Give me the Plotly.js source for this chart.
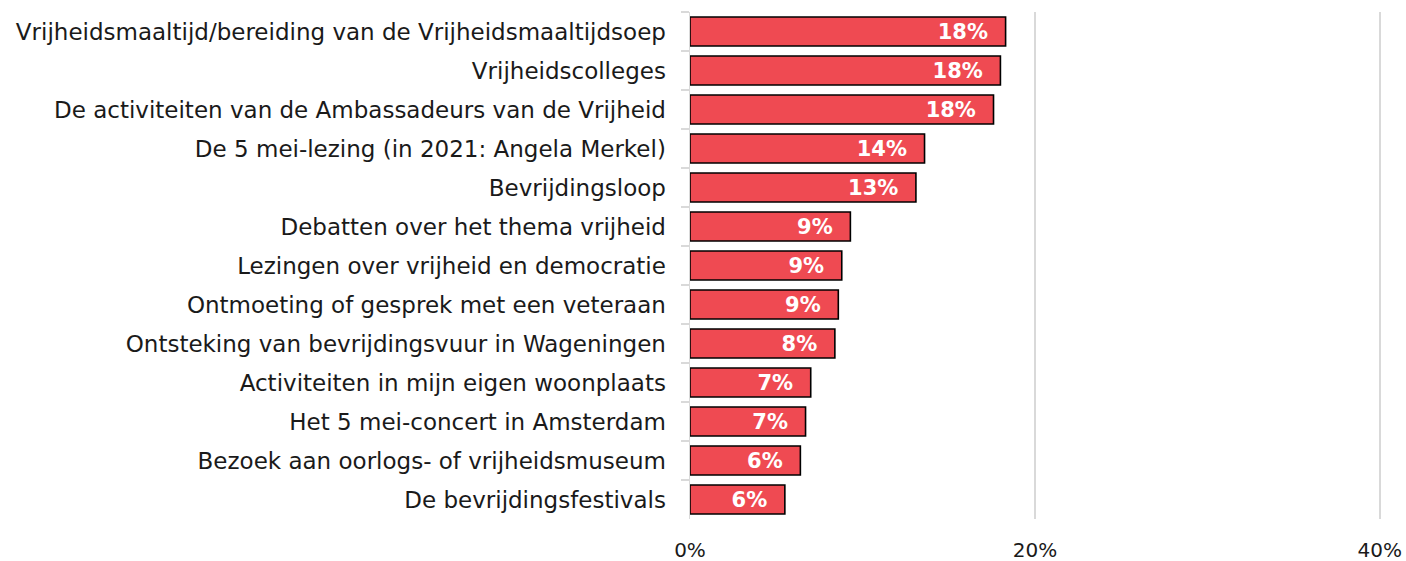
<!DOCTYPE html>
<html>
<head>
<meta charset="utf-8">
<script src="https://cdn.plot.ly/plotly-3.0.1.min.js"></script>
<style>html,body{margin:0;padding:0;background:#fff;}#chart{width:1406px;height:561px;}</style>
</head>
<body>
<div id="chart"></div>
<script>
const categories = [
  "Vrijheidsmaaltijd/bereiding van de Vrijheidsmaaltijdsoep",
  "Vrijheidscolleges",
  "De activiteiten van de Ambassadeurs van de Vrijheid",
  "De 5 mei-lezing (in 2021: Angela Merkel)",
  "Bevrijdingsloop",
  "Debatten over het thema vrijheid",
  "Lezingen over vrijheid en democratie",
  "Ontmoeting of gesprek met een veteraan",
  "Ontsteking van bevrijdingsvuur in Wageningen",
  "Activiteiten in mijn eigen woonplaats",
  "Het 5 mei-concert in Amsterdam",
  "Bezoek aan oorlogs- of vrijheidsmuseum",
  "De bevrijdingsfestivals"
];
const values = [18.3, 18.0, 17.6, 13.6, 13.1, 9.3, 8.8, 8.6, 8.4, 7.0, 6.7, 6.4, 5.5];
const valueLabels = ["18%","18%","18%","14%","13%","9%","9%","9%","8%","7%","7%","6%","6%"];
const xTickVals = [0, 20, 40];
const xTickText = ["0%", "20%", "40%"];

const FONT = "DejaVu Sans, sans-serif";

const trace = {
  type: "bar",
  orientation: "h",
  y: categories,
  x: values,
  text: valueLabels.map(t => t + "\u00a0\u00a0"),
  textposition: "inside",
  insidetextanchor: "end",
  constraintext: "none",
  textfont: {family: FONT, size: 21, color: "#ffffff", weight: "bold"},
  marker: {color: "#EF4A52", line: {color: "#000000", width: 1.6}},
  hoverinfo: "none"
};

const layout = {
  width: 1406,
  height: 561,
  margin: {l: 690, r: 21, t: 12, b: 42},
  paper_bgcolor: "#ffffff",
  plot_bgcolor: "#ffffff",
  showlegend: false,
  bargap: 0.26,
  font: {family: FONT, color: "#1a1a1a"},
  xaxis: {
    range: [0, 40.3],
    tickvals: xTickVals,
    ticktext: xTickText,
    showgrid: true,
    gridcolor: "#d9d9d9",
    gridwidth: 2,
    zeroline: false,
    showline: false,
    ticks: "",
    ticklabelstandoff: 17,
    tickfont: {family: FONT, size: 20, color: "#1a1a1a"},
    fixedrange: true
  },
  yaxis: {
    type: "category",
    autorange: "reversed",
    showline: true,
    linecolor: "#d9d9d9",
    linewidth: 1.5,
    ticks: "outside",
    tickson: "boundaries",
    ticklen: 8,
    tickcolor: "#d9d9d9",
    tickwidth: 1.5,
    ticklabelstandoff: 18,
    showgrid: false,
    tickfont: {family: FONT, size: 23, color: "#1a1a1a"},
    fixedrange: true
  }
};

Plotly.newPlot("chart", [trace], layout, {displayModeBar: false, staticPlot: true});
</script>
</body>
</html>
